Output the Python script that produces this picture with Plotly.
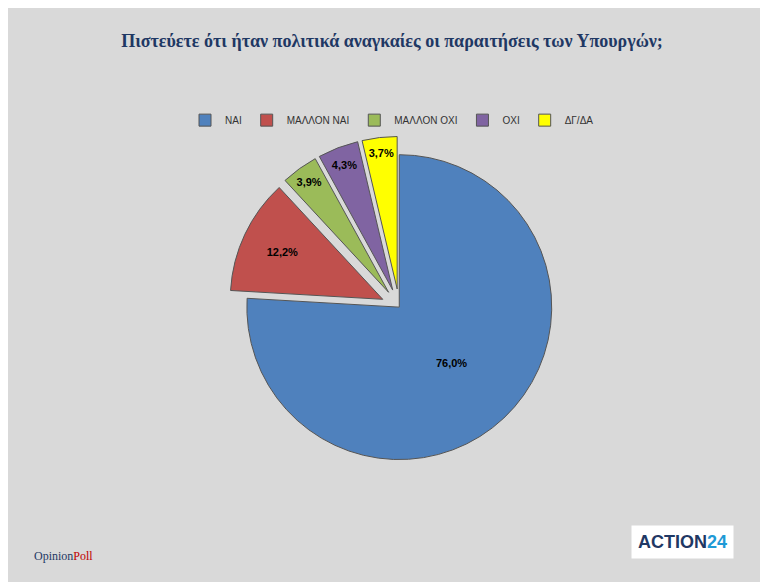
import plotly.graph_objects as go

labels = ["ΝΑΙ", "ΜΑΛΛΟΝ ΝΑΙ", "ΜΑΛΛΟΝ ΟΧΙ", "ΟΧΙ", "ΔΓ/ΔΑ"]
values = [76.0, 12.2, 3.9, 4.3, 3.7]
text_labels = ["76,0%", "12,2%", "3,9%", "4,3%", "3,7%"]
colors = ["#4f81bd", "#c0504d", "#9bbb59", "#8064a2", "#ffff00"]

fig = go.Figure(go.Pie(
    labels=labels, values=values, text=text_labels,
    texttemplate="<b>%{text}</b>", textinfo="text",
    textposition="inside", insidetextorientation="horizontal",
    textfont=dict(size=11, color="black", family="Arial"),
    marker=dict(colors=colors, line=dict(color="#555555", width=1)),
    sort=False, direction="clockwise", rotation=0,
    pull=[0, 0.12, 0.12, 0.12, 0.12],
    domain=dict(x=[0.1, 0.92], y=[0.17, 0.8]),
))

fig.update_layout(
    width=768, height=582,
    paper_bgcolor="#d9d9d9", plot_bgcolor="#d9d9d9",
    margin=dict(l=20, r=20, t=20, b=20),
    title=dict(text="<b>Πιστεύετε ότι ήταν πολιτικά αναγκαίες οι παραιτήσεις των Υπουργών;</b>",
               x=0.5, y=0.955, xanchor="center",
               font=dict(family="Liberation Serif", size=18, color="#1f3864")),
    legend=dict(orientation="h", x=0.5, xanchor="center", y=0.83, yanchor="middle",
                font=dict(size=10, family="Arial", color="#333333"), bgcolor="rgba(0,0,0,0)"),
    annotations=[
        dict(text="Opinion<span style='color:#c00000'>Poll</span>", x=0.005, y=0.01,
             xref="paper", yref="paper", xanchor="left", yanchor="bottom",
             showarrow=False, font=dict(family="Liberation Serif", size=12, color="#1f3864")),
        dict(text="<b>ACTION<span style='color:#1f9ad6'>24</span></b>", x=0.97, y=0.02,
             xref="paper", yref="paper", xanchor="right", yanchor="bottom",
             showarrow=False, bgcolor="white", borderpad=6,
             font=dict(family="Arial", size=18, color="#1f3864")),
    ],
)

fig.write_html("out.html")
